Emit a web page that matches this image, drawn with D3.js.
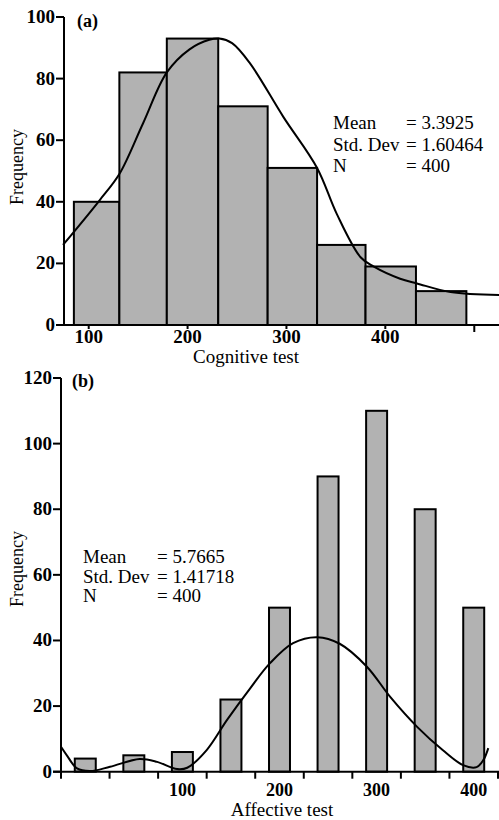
<!DOCTYPE html>
<html>
<head>
<meta charset="utf-8">
<script src="https://cdn.jsdelivr.net/npm/d3@7"></script>
<style>
  body { margin: 0; background: #fff; }
  svg text { font-family: "Liberation Serif", "Times New Roman", serif; fill: #000; }
</style>
</head>
<body>
<div id="chart"></div>
<script>
// (a) cognitive test histogram
var cogEdges = [85, 131, 179, 231, 281, 331, 380, 431, 482];
var cogFreq = [40, 82, 93, 71, 51, 26, 19, 11];
var cogCurveX = [74, 111, 131, 155, 179, 202, 222, 232, 245, 263, 297, 331, 351, 375, 388, 415, 432, 466, 515];
var cogCurveY = [26, 40.5, 49, 65.5, 82, 89.5, 92.6, 93, 91.5, 85, 67.5, 51, 36, 22, 19, 15, 13.5, 10.7, 9.7];
var cogTicks = [100, 200, 300, 400, 490];
var cogTickLabels = ["100", "200", "300", "400", ""];
var cogYTicks = [0, 20, 40, 60, 80, 100];
var cogStats = [["Mean", "= 3.3925"], ["Std. Dev", "= 1.60464"], ["N", "= 400"]];

// (b) affective test histogram
var affCenters = [0, 50, 100, 150, 200, 250, 300, 350, 400];
var affFreq = [4, 5, 6, 22, 50, 90, 110, 80, 50];
var affCurveX = [-25, -19, -8.5, 5, 25.5, 56, 74, 94.5, 105, 125, 146, 170, 190, 214, 239, 262, 290, 314, 342, 368, 389, 403, 410, 415];
var affCurveY = [7.6, 5, 1, 0.2, 1.5, 3.9, 3, 0.8, 1.2, 6.6, 15.8, 25.5, 33, 39.2, 41, 39, 32, 22.8, 13.6, 6.6, 2, 1.4, 3.6, 7.2];
var affTicks = [-25, 25, 75, 125, 175, 225, 275, 325, 375, 425];
var affLabels = [100, 200, 300, 400];
var affYTicks = [0, 20, 40, 60, 80, 100, 120];
var affStats = [["Mean", "= 5.7665"], ["Std. Dev", "= 1.41718"], ["N", "= 400"]];

var width = 499, height = 820;
var barFill = "#b2b2b2";

var svg = d3.select("#chart").append("svg")
  .attr("width", width)
  .attr("height", height);

function yAxisDraw(g, y, ticks, x0) {
  g.append("line")
    .attr("x1", x0).attr("x2", x0)
    .attr("y1", y(ticks[ticks.length - 1])).attr("y2", y(0))
    .attr("stroke", "#000").attr("stroke-width", 2);
  ticks.forEach(function(t) {
    g.append("line")
      .attr("x1", x0 - 8).attr("x2", x0)
      .attr("y1", y(t)).attr("y2", y(t))
      .attr("stroke", "#000").attr("stroke-width", 2);
    g.append("text")
      .attr("x", x0 - 9).attr("y", y(t) + 6)
      .attr("text-anchor", "end")
      .style("font-size", "19px")
      .style("font-weight", "bold")
      .text(t);
  });
}

function statsDraw(g, stats, x1, x2, yStart, step) {
  stats.forEach(function(s, i) {
    g.append("text").attr("x", x1).attr("y", yStart + i * step)
      .style("font-size", "19px").text(s[0]);
    g.append("text").attr("x", x2).attr("y", yStart + i * step)
      .style("font-size", "19px").text(s[1]);
  });
}

// ---------- panel (a) ----------
var xa = d3.scaleLinear().domain([75, 515]).range([64, 499]);
var ya = d3.scaleLinear().domain([0, 100]).range([325, 17]);
var ga = svg.append("g");

ga.selectAll("rect")
  .data(cogFreq)
  .enter()
  .append("rect")
  .attr("x", function(d, i) { return xa(cogEdges[i]); })
  .attr("y", function(d) { return ya(d); })
  .attr("width", function(d, i) { return xa(cogEdges[i + 1]) - xa(cogEdges[i]); })
  .attr("height", function(d) { return ya(0) - ya(d); })
  .attr("fill", barFill)
  .attr("stroke", "#000")
  .attr("stroke-width", 2);

var lineA = d3.line()
  .curve(d3.curveCatmullRom)
  .x(function(d) { return xa(d[0]); })
  .y(function(d) { return ya(d[1]); });

ga.append("path")
  .datum(d3.zip(cogCurveX, cogCurveY))
  .attr("d", lineA)
  .attr("fill", "none")
  .attr("stroke", "#000")
  .attr("stroke-width", 2);

// x axis (a)
ga.append("line")
  .attr("x1", 56).attr("x2", 499)
  .attr("y1", ya(0)).attr("y2", ya(0))
  .attr("stroke", "#000").attr("stroke-width", 2);
cogTicks.forEach(function(t, i) {
  ga.append("line")
    .attr("x1", xa(t)).attr("x2", xa(t))
    .attr("y1", ya(0)).attr("y2", ya(0) + (cogTickLabels[i] ? 4 : 7))
    .attr("stroke", "#000").attr("stroke-width", 2);
  ga.append("text")
    .attr("x", xa(t)).attr("y", 343)
    .attr("text-anchor", "middle")
    .style("font-size", "19px")
    .style("font-weight", "bold")
    .text(cogTickLabels[i]);
});
yAxisDraw(ga, ya, cogYTicks, 64);

ga.append("text").attr("x", 246).attr("y", 363)
  .attr("text-anchor", "middle").style("font-size", "19px")
  .text("Cognitive test");
ga.append("text")
  .attr("transform", "translate(23,167) rotate(-90)")
  .attr("text-anchor", "middle").style("font-size", "18px")
  .text("Frequency");
ga.append("text").attr("x", 77).attr("y", 27)
  .style("font-size", "18px").style("font-weight", "bold").text("(a)");
statsDraw(ga, cogStats, 333, 406, 129, 21.5);

// ---------- panel (b) ----------
var xb = d3.scaleLinear().domain([-25, 425]).range([61, 498]);
var yb = d3.scaleLinear().domain([0, 120]).range([771.7, 378]);
var gb = svg.append("g");
var barW = 21.6;

gb.selectAll("rect")
  .data(affFreq)
  .enter()
  .append("rect")
  .attr("x", function(d, i) { return xb(affCenters[i] - barW / 2); })
  .attr("y", function(d) { return yb(d); })
  .attr("width", xb(barW) - xb(0))
  .attr("height", function(d) { return yb(0) - yb(d); })
  .attr("fill", barFill)
  .attr("stroke", "#000")
  .attr("stroke-width", 2);

var lineB = d3.line()
  .curve(d3.curveCatmullRom)
  .x(function(d) { return xb(d[0]); })
  .y(function(d) { return yb(d[1]); });

gb.append("path")
  .datum(d3.zip(affCurveX, affCurveY))
  .attr("d", lineB)
  .attr("fill", "none")
  .attr("stroke", "#000")
  .attr("stroke-width", 2);

gb.append("line")
  .attr("x1", 53).attr("x2", 499)
  .attr("y1", yb(0)).attr("y2", yb(0))
  .attr("stroke", "#000").attr("stroke-width", 2);
affTicks.forEach(function(t) {
  gb.append("line")
    .attr("x1", xb(t)).attr("x2", xb(t))
    .attr("y1", yb(0)).attr("y2", yb(0) + 7)
    .attr("stroke", "#000").attr("stroke-width", 2);
});
affLabels.forEach(function(t) {
  gb.append("text")
    .attr("x", xb(t)).attr("y", 796)
    .attr("text-anchor", "middle")
    .style("font-size", "18px")
    .style("font-weight", "bold")
    .text(t);
});
yAxisDraw(gb, yb, affYTicks, 61);

gb.append("text").attr("x", 282).attr("y", 816)
  .attr("text-anchor", "middle").style("font-size", "19px")
  .text("Affective test");
gb.append("text")
  .attr("transform", "translate(23,569) rotate(-90)")
  .attr("text-anchor", "middle").style("font-size", "18px")
  .text("Frequency");
gb.append("text").attr("x", 72).attr("y", 387)
  .style("font-size", "18px").style("font-weight", "bold").text("(b)");
statsDraw(gb, affStats, 83, 157, 563, 19.5);
</script>
</body>
</html>
